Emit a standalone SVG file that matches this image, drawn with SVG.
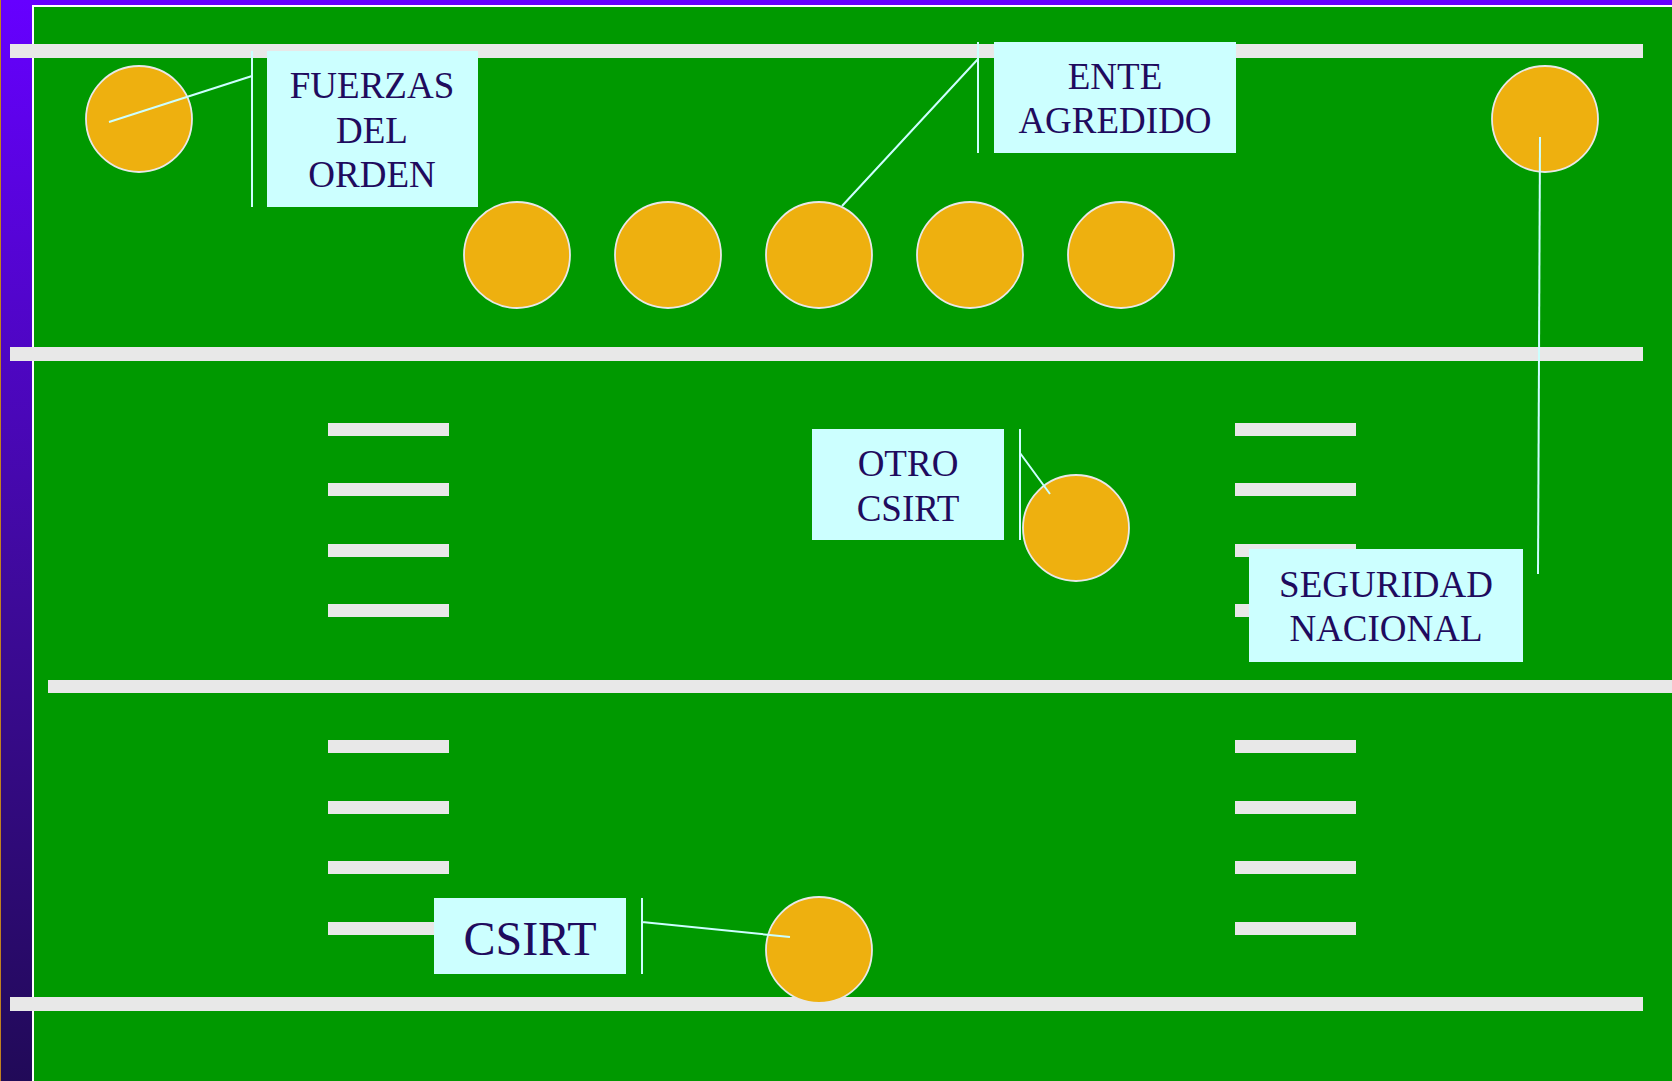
<svg xmlns="http://www.w3.org/2000/svg" width="1672" height="1081" viewBox="0 0 1672 1081">
<defs>
<linearGradient id="bg" x1="0" y1="0" x2="0" y2="1">
<stop offset="0" stop-color="#6600ff"/>
<stop offset="0.55" stop-color="#3e0a9a"/>
<stop offset="1" stop-color="#210a58"/>
</linearGradient>
</defs>
<style>
.bar{fill:#e8e8e8}
.player{fill:#eeb00f;stroke:#e8e8e8;stroke-width:1.8}
.box{fill:#ccffff}
.lbl{font-family:"Liberation Serif","Times New Roman",serif;font-size:37px;fill:#1f0b5e;text-anchor:middle}
.big{font-size:48px}
.conn{stroke:#ccffff;stroke-width:2;fill:none}
</style>
<g id="field">
<rect x="0" y="0" width="1672" height="1081" fill="url(#bg)"/>
<line x1="0.5" y1="0" x2="0.5" y2="1081" stroke="#c08020" stroke-width="1"/>
<rect x="32" y="5" width="1640" height="1076" fill="#ffffff"/>
<rect x="34" y="7" width="1638" height="1074" fill="#009900"/>
<rect class="bar" x="10" y="44" width="1633" height="14"/>
<rect class="bar" x="10" y="347" width="1633" height="14"/>
<rect class="bar" x="48" y="680" width="1624" height="13"/>
<rect class="bar" x="10" y="997" width="1633" height="14"/>
<rect class="bar" x="328" y="423" width="121" height="13"/>
<rect class="bar" x="328" y="483" width="121" height="13"/>
<rect class="bar" x="328" y="544" width="121" height="13"/>
<rect class="bar" x="328" y="604" width="121" height="13"/>
<rect class="bar" x="1235" y="423" width="121" height="13"/>
<rect class="bar" x="1235" y="483" width="121" height="13"/>
<rect class="bar" x="1235" y="544" width="121" height="13"/>
<rect class="bar" x="1235" y="604" width="121" height="13"/>
<rect class="bar" x="328" y="740" width="121" height="13"/>
<rect class="bar" x="328" y="801" width="121" height="13"/>
<rect class="bar" x="328" y="861" width="121" height="13"/>
<rect class="bar" x="328" y="922" width="121" height="13"/>
<rect class="bar" x="1235" y="740" width="121" height="13"/>
<rect class="bar" x="1235" y="801" width="121" height="13"/>
<rect class="bar" x="1235" y="861" width="121" height="13"/>
<rect class="bar" x="1235" y="922" width="121" height="13"/>
</g>
<g id="p-fuerzas"><circle class="player" cx="139" cy="119" r="53"/></g>
<g id="p-line1"><circle class="player" cx="517" cy="255" r="53"/></g>
<g id="p-line2"><circle class="player" cx="668" cy="255" r="53"/></g>
<g id="p-ente"><circle class="player" cx="819" cy="255" r="53"/></g>
<g id="p-line4"><circle class="player" cx="970" cy="255" r="53"/></g>
<g id="p-line5"><circle class="player" cx="1121" cy="255" r="53"/></g>
<g id="p-seguridad"><circle class="player" cx="1545" cy="119" r="53"/></g>
<g id="p-otro"><circle class="player" cx="1076" cy="528" r="53"/></g>
<g id="p-csirt"><circle class="player" cx="819" cy="950" r="53"/></g>
<g id="lbl-fuerzas">
<rect class="box" x="267" y="51" width="211" height="156"/>
<text class="lbl" x="372" y="98">FUERZAS</text>
<text class="lbl" x="372" y="143">DEL</text>
<text class="lbl" x="372" y="187">ORDEN</text>
</g>
<g id="lbl-ente">
<rect class="box" x="994" y="42" width="242" height="111"/>
<text class="lbl" x="1115" y="89">ENTE</text>
<text class="lbl" x="1115" y="133">AGREDIDO</text>
</g>
<g id="lbl-otro">
<rect class="box" x="812" y="429" width="192" height="111"/>
<text class="lbl" x="908" y="476">OTRO</text>
<text class="lbl" x="908" y="521">CSIRT</text>
</g>
<g id="lbl-seguridad">
<rect class="box" x="1249" y="549" width="274" height="113"/>
<text class="lbl" x="1386" y="597">SEGURIDAD</text>
<text class="lbl" x="1386" y="641">NACIONAL</text>
</g>
<g id="lbl-csirt">
<rect class="box" x="434" y="898" width="192" height="76"/>
<text class="lbl big" x="530" y="955">CSIRT</text>
</g>
<g id="connectors">
<path class="conn" d="M252 51 V207 M252 76 L109 122"/>
<path class="conn" d="M978 42 V153 M978 59 L842 206"/>
<path class="conn" d="M1540 137 L1538 574"/>
<path class="conn" d="M1020 429 V540 M1020 453 L1050 494"/>
<path class="conn" d="M642 898 V974 M642 922 L790 937"/>
</g>
</svg>
